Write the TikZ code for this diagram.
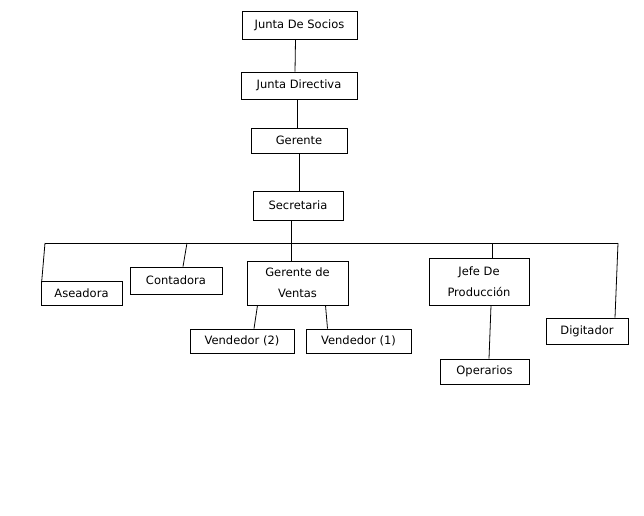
\documentclass[tikz,border=0pt]{standalone}
\usepackage{fontspec}
\setmainfont{DejaVu Sans}
\usetikzlibrary{%
  calc,%
  positioning%
}
\tikzset{
  cargo/.style={draw,rectangle,inner sep=0pt,line width=0.8pt,
    font=\fontsize{11.5}{21}\selectfont,align=center},
  enlace/.style={line width=0.8pt}
}

\begin{document}
\begin{tikzpicture}[x=1pt,y=-1pt]
    \useasboundingbox (0,0) rectangle (644,515);
    % direccion
    \node[cargo,minimum width=115,minimum height=28] (socios) at (299.5,25) {Junta De Socios};
    \node[cargo,minimum width=116,minimum height=27] (directiva) at (299,85.5) {Junta Directiva};
    \node[cargo,minimum width=96,minimum height=25] (gerente) at (299,140.5) {Gerente};
    \node[cargo,minimum width=90,minimum height=29] (secretaria) at (298,205.5) {Secretaria};
    % areas
    \node[cargo,minimum width=81,minimum height=24] (aseadora) at (81.5,293) {Aseadora};
    \node[cargo,minimum width=92,minimum height=27] (contadora) at (176,280.5) {Contadora};
    \node[cargo,minimum width=101,minimum height=44] (ventas) at (297.5,283) {Gerente de\\Ventas};
    \node[cargo,minimum width=100,minimum height=47] (jefe) at (479,281.5) {Jefe De\\Producción};
    \node[cargo,minimum width=82,minimum height=26] (digitador) at (587,331) {Digitador};
    \node[cargo,minimum width=104,minimum height=24] (vend2) at (242,341) {Vendedor (2)};
    \node[cargo,minimum width=105,minimum height=24] (vend1) at (358.5,341) {Vendedor (1)};
    \node[cargo,minimum width=89,minimum height=25] (operarios) at (484.5,371.5) {Operarios};
    % linea horizontal
    \coordinate (busL) at (45,243);
    \coordinate (busC) at (187,243);
    \coordinate (busJ) at (492,243);
    \coordinate (busR) at (618,243);
    \draw[enlace] (busL) -- (busR);
    % conexiones
    \draw[enlace] ([xshift=-4pt]socios.south) -- ([xshift=-4pt]directiva.north);
    \draw[enlace] ([xshift=-2pt]directiva.south) -- ([xshift=-2pt]gerente.north);
    \draw[enlace] (gerente.south) -- (gerente.south |- secretaria.north);
    \draw[enlace] ([xshift=-7pt]secretaria.south) -- ([xshift=-7pt]secretaria.south |- ventas.north);
    \draw[enlace] (busL) -- ([xshift=1pt,yshift=-2pt]aseadora.north west);
    \draw[enlace] (busC) -- ([xshift=7pt]contadora.north);
    \draw[enlace] (busJ) -- (busJ |- jefe.north);
    \draw[enlace] (busR) -- ([xshift=28pt]digitador.north);
    \draw[enlace] ([xshift=-40pt]ventas.south) -- ([xshift=12pt]vend2.north);
    \draw[enlace] ([xshift=28pt]ventas.south) -- ([xshift=-31pt]vend1.north);
    \draw[enlace] ([xshift=12pt]jefe.south) -- ([xshift=4.5pt]operarios.north);
\end{tikzpicture}
\end{document}
